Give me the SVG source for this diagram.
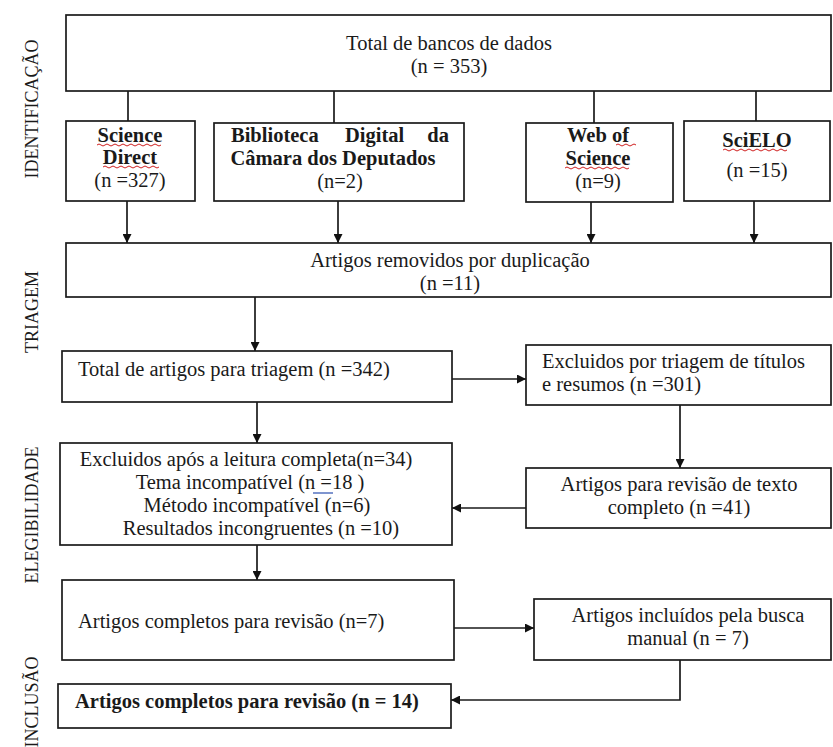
<svg xmlns="http://www.w3.org/2000/svg" width="833" height="747" viewBox="0 0 833 747">
<defs>
<marker id="ah" viewBox="0 0 10 10" refX="10" refY="5" markerWidth="9" markerHeight="9" markerUnits="userSpaceOnUse" orient="auto">
<path d="M0,0 L10,5 L0,10 z" fill="#111"/>
</marker>
<style>
.box{fill:#fff;stroke:#1a1a1a;stroke-width:1.7}
.t{font-size:20.5px;fill:#1a1a1a}
.b{font-weight:bold}
.m{text-anchor:middle}
.lbl{font-size:18px;fill:#1a1a1a;text-anchor:middle}
.c{fill:none;stroke:#1a1a1a;stroke-width:1.7}
.ca{fill:none;stroke:#1a1a1a;stroke-width:1.7;marker-end:url(#ah)}
.sq{fill:none;stroke:#d02020;stroke-width:1}
</style>
</defs>
<rect width="833" height="747" fill="#fff"/>

<g id="labels" font-family="Liberation Serif">
<text class="lbl" transform="translate(38,109) rotate(-90)">IDENTIFICAÇÃO</text>
<text class="lbl" transform="translate(38,312) rotate(-90)">TRIAGEM</text>
<text class="lbl" transform="translate(38,515) rotate(-90)">ELEGIBILIDADE</text>
<text class="lbl" transform="translate(38,702) rotate(-90)">INCLUSÃO</text>
</g>

<g id="connectors">
<line class="c" x1="128" y1="91" x2="128" y2="121"/>
<line class="c" x1="334" y1="91" x2="334" y2="123"/>
<line class="c" x1="594" y1="91" x2="594" y2="123"/>
<line class="c" x1="756" y1="91" x2="756" y2="121"/>
<line class="ca" x1="127" y1="201" x2="127" y2="243"/>
<line class="ca" x1="338" y1="201" x2="338" y2="243"/>
<line class="ca" x1="591" y1="202" x2="591" y2="243"/>
<line class="ca" x1="754" y1="201" x2="754" y2="243"/>
<line class="ca" x1="255" y1="297" x2="255" y2="351"/>
<line class="ca" x1="257" y1="402" x2="257" y2="443"/>
<line class="ca" x1="452" y1="379" x2="526" y2="379"/>
<line class="ca" x1="680" y1="405" x2="680" y2="468"/>
<line class="ca" x1="526" y1="508" x2="452" y2="508"/>
<line class="ca" x1="257" y1="545" x2="257" y2="580"/>
<line class="ca" x1="454" y1="628" x2="534" y2="628"/>
<polyline class="ca" points="680,660 680,700 451,700"/>
</g>

<g id="n-total" font-family="Liberation Serif">
<rect class="box" x="66" y="15" width="765" height="76"/>
<text class="t m" x="449" y="50">Total de bancos de dados</text>
<text class="t m" x="449" y="73">(n = 353)</text>
</g>

<g id="n-sciencedirect" font-family="Liberation Serif">
<rect class="box" x="66" y="121" width="129" height="80"/>
<text class="t b m" x="130" y="142">Science</text>
<text class="t b m" x="130" y="164">Direct</text>
<text class="t m" x="130" y="187">(n =327)</text>
<path class="sq" d="M97,145 q2,-2 4,0 t4,0 t4,0 t4,0 t4,0 t4,0 t4,0 t4,0 t4,0 t4,0 t4,0 t4,0 t4,0 t4,0 t4,0 t4,0"/>
<path class="sq" d="M103,167 q2,-2 4,0 t4,0 t4,0 t4,0 t4,0 t4,0 t4,0 t4,0 t4,0 t4,0 t4,0 t4,0 t4,0 t4,0"/>
</g>

<g id="n-biblioteca" font-family="Liberation Serif">
<rect class="box" x="214" y="123" width="250" height="78"/>
<text class="t b" x="231" y="142">Biblioteca</text>
<text class="t b" x="345" y="142">Digital</text>
<text class="t b" x="449" y="142" text-anchor="end">da</text>
<text class="t b m" x="333" y="165">Câmara dos Deputados</text>
<text class="t m" x="340" y="188">(n=2)</text>
</g>

<g id="n-webofscience" font-family="Liberation Serif">
<rect class="box" x="526" y="123" width="147" height="79"/>
<text class="t b m" x="598" y="142">Web of</text>
<text class="t b m" x="598" y="165">Science</text>
<text class="t m" x="598" y="188">(n=9)</text>
<path class="sq" d="M616,145 q2,-2 4,0 t4,0 t4,0 t4,0 t4,0"/>
<path class="sq" d="M565,168 q2,-2 4,0 t4,0 t4,0 t4,0 t4,0 t4,0 t4,0 t4,0 t4,0 t4,0 t4,0 t4,0 t4,0 t4,0 t4,0 t4,0"/>
</g>

<g id="n-scielo" font-family="Liberation Serif">
<rect class="box" x="684" y="121" width="146" height="80"/>
<text class="t b m" x="757" y="147">SciELO</text>
<text class="t m" x="757" y="177">(n =15)</text>
<path class="sq" d="M723,150 q2,-2 4,0 t4,0 t4,0 t4,0 t4,0 t4,0 t4,0 t4,0 t4,0 t4,0 t4,0 t4,0 t4,0 t4,0 t4,0 t4,0"/>
</g>

<g id="n-removidos" font-family="Liberation Serif">
<rect class="box" x="66" y="243" width="765" height="54"/>
<text class="t m" x="450" y="267">Artigos removidos por duplicação</text>
<text class="t m" x="450" y="290">(n =11)</text>
</g>

<g id="n-triagem" font-family="Liberation Serif">
<rect class="box" x="62" y="351" width="390" height="51"/>
<text class="t" x="78" y="376">Total de artigos para triagem (n =342)</text>
</g>

<g id="n-excl-titulos" font-family="Liberation Serif">
<rect class="box" x="526" y="345" width="305" height="60"/>
<text class="t" x="542" y="368">Excluidos por triagem de títulos</text>
<text class="t" x="542" y="391">e resumos (n =301)</text>
</g>

<g id="n-excl-leitura" font-family="Liberation Serif">
<rect class="box" x="60" y="443" width="392" height="102"/>
<text class="t m" x="246" y="466">Excluidos após a leitura completa(n=34)</text>
<text class="t m" x="250" y="489">Tema incompatível (n =18 )</text>
<text class="t m" x="257" y="512">Método incompatível (n=6)</text>
<text class="t m" x="261" y="535">Resultados incongruentes (n =10)</text>
<path d="M313,493 L333,493" stroke="#2a4fb0" stroke-width="1.2" fill="none"/>
</g>

<g id="n-revisao-texto" font-family="Liberation Serif">
<rect class="box" x="526" y="468" width="305" height="60"/>
<text class="t m" x="679" y="491">Artigos para revisão de texto</text>
<text class="t m" x="679" y="514">completo (n =41)</text>
</g>

<g id="n-completos7" font-family="Liberation Serif">
<rect class="box" x="62" y="580" width="392" height="80"/>
<text class="t" x="78" y="628">Artigos completos para revisão (n=7)</text>
</g>

<g id="n-manual" font-family="Liberation Serif">
<rect class="box" x="534" y="599" width="297" height="61"/>
<text class="t m" x="688" y="622">Artigos incluídos pela busca</text>
<text class="t m" x="688" y="645">manual (n = 7)</text>
</g>

<g id="n-completos14" font-family="Liberation Serif">
<rect class="box" x="58" y="684" width="393" height="44"/>
<text class="t b" x="75" y="708">Artigos completos para revisão (n = 14)</text>
</g>
</svg>
